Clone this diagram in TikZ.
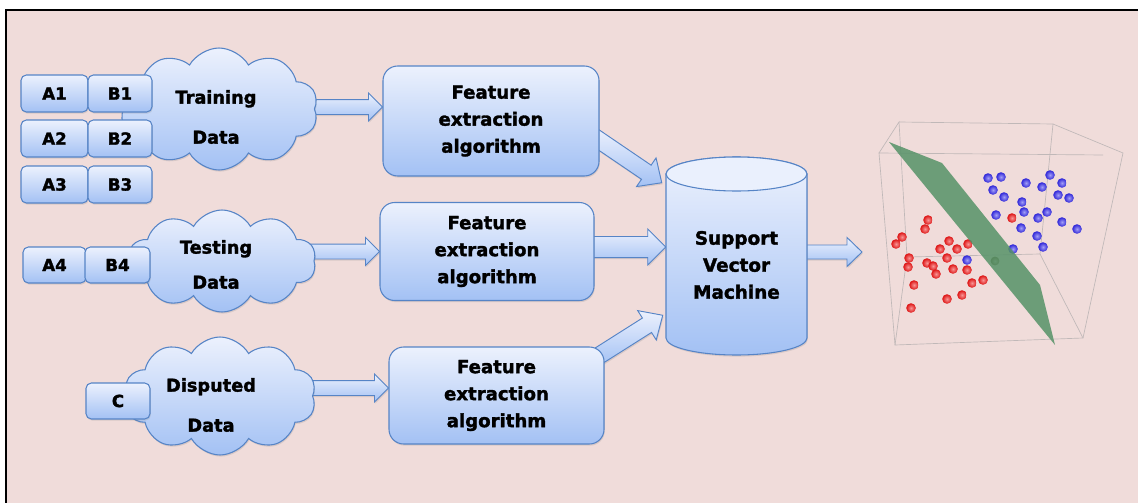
\documentclass[tikz,border=0pt]{standalone}
\usepackage{fontspec}
\setmainfont{DejaVu Sans}[BoldFeatures={FakeBold=1.8}]
\usetikzlibrary{shapes.symbols,calc,shadows}

\pgfdeclarelayer{paper}
\pgfdeclarelayer{arrows}
\pgfsetlayers{paper,arrows,main}

\definecolor{pagebg}{RGB}{240,220,218}
\definecolor{shapeedge}{RGB}{86,132,198}
\definecolor{shapetop}{RGB}{236,241,253}
\definecolor{shapebot}{RGB}{163,193,244}
\definecolor{cubeline}{RGB}{192,184,184}
\definecolor{planegreen}{RGB}{86,146,104}
\definecolor{redball}{RGB}{240,20,20}
\definecolor{blueball}{RGB}{50,40,235}
\definecolor{oliveball}{RGB}{100,88,36}

% block arrow: [options]{start}{tip}{shaft half width}{head half width}{head length}
\newcommand\blockarrow[6][]{%
  \coordinate (ba-s) at (#2);
  \coordinate (ba-e) at (#3);
  \coordinate (ba-h) at ($(ba-e)!#6!(ba-s)$);
  \draw[barrow,#1] ($(ba-s)!#4!90:(ba-e)$) -- ($(ba-h)!#4!90:(ba-e)$)
    -- ($(ba-h)!#5!90:(ba-e)$) -- (ba-e) -- ($(ba-h)!#5!-90:(ba-e)$)
    -- ($(ba-h)!#4!-90:(ba-e)$) -- ($(ba-s)!#4!-90:(ba-e)$) -- cycle;
}

\tikzset{
  softshadow/.style={drop shadow={opacity=0.22, shadow xshift=0.6pt, shadow yshift=-1.2pt}},
  gradfill/.style={top color=shapetop, bottom color=shapebot},
  boxsize/.style 2 args={minimum width={#1*0.75pt}, minimum height={#2*0.75pt}},
  keybox/.style={draw=shapeedge, line width=0.8pt, rounded corners=4pt, gradfill,
    softshadow, inner sep=0pt, font=\bfseries\fontsize{12.5}{14}\selectfont},
  datacloud/.style={cloud, cloud puffs=10, cloud puff arc=120, cloud ignores aspect,
    draw=shapeedge, line width=0.8pt, gradfill, softshadow, inner sep=0pt},
  cloudtext/.style={align=center, inner sep=0pt, font=\bfseries\fontsize{13.3}{#1}\selectfont},
  featbox/.style={draw=shapeedge, line width=0.8pt, rounded corners=11pt, gradfill,
    softshadow, align=center, font=\bfseries\fontsize{13.6}{20.25}\selectfont},
  svmtext/.style={align=center, inner sep=0pt, font=\bfseries\fontsize{13.8}{20.25}\selectfont},
  barrow/.style={draw=shapeedge, line width=0.7pt, line join=miter, gradfill, softshadow},
  cubeedge/.style={draw=cubeline, line width=0.5pt},
  pointball/.style={inner color=#1!45!white, outer color=#1!92!black},
}

\begin{document}
\begin{tikzpicture}[x=0.75pt, y=-0.75pt]
\useasboundingbox (0,0) rectangle (1138,503);

% paper and frame
\begin{pgfonlayer}{paper}
  \fill[white] (0,0) rectangle (1138,503);
  \fill[pagebg] (6,10) rectangle (1138,503);
  \draw[line width=1.5pt] (6,503) -- (6,10) -- (1138,10);
\end{pgfonlayer}

% data clouds
\node[datacloud, boxsize={198}{122}] (tr) at (219,109) {};
\node[datacloud, boxsize={188}{102}] (te) at (222,261) {};
\node[datacloud, boxsize={192}{118}] (di) at (220,396) {};

% author samples
\node[keybox, boxsize={67}{37}] (a1) at (54.5,93.5) {A1};
\node[keybox, boxsize={64}{37}] (b1) at (120,93.5) {B1};
\node[keybox, boxsize={67}{37}] (a2) at (54.5,138.5) {A2};
\node[keybox, boxsize={64}{37}] (b2) at (120,138.5) {B2};
\node[keybox, boxsize={67}{37}] (a3) at (54.5,184.5) {A3};
\node[keybox, boxsize={64}{37}] (b3) at (120,184.5) {B3};
\node[keybox, boxsize={63}{36}] (a4) at (54.5,265) {A4};
\node[keybox, boxsize={65}{36}] (b4) at (117.5,265) {B4};
\node[keybox, boxsize={64}{36}] (c) at (118,401) {C};

% cloud captions
\node[cloudtext=30pt] (tr-t) at (216,117) {Training\\Data};
\node[cloudtext=26.25pt] (te-t) at (216,264.5) {Testing\\Data};
\node[cloudtext=30pt] (di-t) at (211,405) {Disputed\\Data};

% feature extraction stages
\node[featbox, boxsize={216}{110}] (f1) at (491,121) {Feature\\extraction\\algorithm};
\node[featbox, boxsize={214}{98}] (f2) at (487,251.5) {Feature\\extraction\\algorithm};
\node[featbox, boxsize={215}{97}] (f3) at (496.5,395.5) {Feature\\extraction\\algorithm};

% support vector machine cylinder
\path[draw=shapeedge, line width=0.8pt, gradfill, softshadow]
  (666,174) -- (666,338) arc[start angle=180, end angle=0, x radius=70.5, y radius=17]
  -- (807,174) arc[start angle=0, end angle=-180, x radius=70.5, y radius=17] -- cycle;
\draw[shapeedge, line width=0.8pt, fill={rgb,255:red,234;green,240;blue,253}]
  (736.5,174) ellipse[x radius=70.5, y radius=17];
\node[svmtext, boxsize={141}{180}] (svm) at (736.5,265) {Support\\Vector\\Machine};
\coordinate (plotin) at (862,252);

% connectors
\begin{pgfonlayer}{arrows}
  \blockarrow{$(tr.center)+(0,-2)$}{$(tr.center -| f1.west)+(0,-2)$}{5.6pt}{10.5pt}{10.5pt}
  \blockarrow{te.center |- f2.west}{f2.west}{5.6pt}{10.5pt}{10.5pt}
  \blockarrow{$(di.center)+(0,-8)$}{$(di.center -| f3.west)+(0,-8)$}{5.6pt}{10.5pt}{10.5pt}
  \blockarrow{$(f1.east)+(-8,14)$}{$(svm.north west)+(-4,8)$}{6.4pt}{13pt}{14pt}
  \blockarrow{$(f2.east)+(-10,-4.5)$}{$(svm.west)+(0,-18)$}{7.9pt}{13.5pt}{13.5pt}
  \blockarrow{$(f3.north east)+(-10,12)$}{$(svm.south west)+(-3,-40)$}{6.4pt}{13pt}{14pt}
  \blockarrow{$(svm.east)+(-10,-13)$}{plotin}{5.25pt}{10.9pt}{11.25pt}
\end{pgfonlayer}

% 3-D scatter plot with separating plane
\draw[cubeedge] (899,122) -- (1053,124) -- (1123,153) -- (1083,338) -- (895,345) -- (879,153) -- (1103,155);
\draw[cubeedge] (879,153) -- (899,122) -- (907,257) -- (1040,254) -- (1053,124);
\draw[cubeedge] (907,257) -- (895,345);
\draw[cubeedge] (1040,254) -- (1083,338);

\foreach \x/\y in {988/178, 1001/177, 1026/183, 1050/175, 1062/183, 993/190, 1004/197,
    1042/187, 1058/195, 1069/198, 1022/202, 996/215, 1024/212, 1047/212, 1038/218,
    1062/222, 1077/229, 1021/228, 1037/236, 1043/247, 1013/249, 967/260}
  \shade[pointball=blueball] (\x,\y) circle[radius=3.6pt];
\foreach \x/\y in {1012/218, 928/220, 925/229, 902/237, 896/244, 949/241, 940/249,
    957/249, 968/244, 909/258, 947/258, 908/267, 927/263, 933/266, 936/274, 953/269,
    967/270, 983/280, 972/283, 914/285, 962/295, 947/299, 911/308}
  \shade[pointball=redball] (\x,\y) circle[radius=3.6pt];
\shade[pointball=oliveball] (995,261) circle[radius=3.3pt];

\fill[planegreen, opacity=0.85] (889,142) -- (942,163) -- (1040,285) -- (1055,345) -- cycle;
\end{tikzpicture}
\end{document}
